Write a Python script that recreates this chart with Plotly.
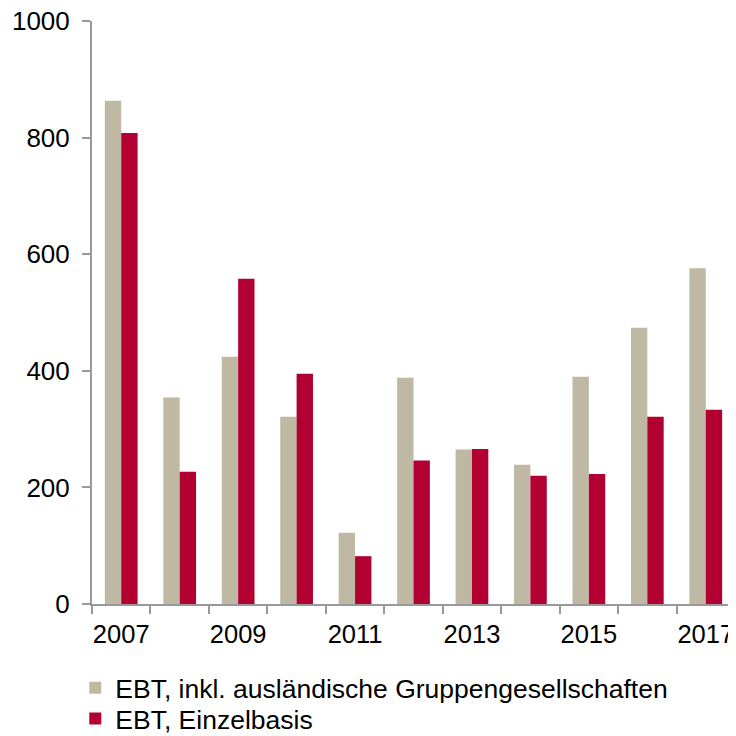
import plotly.graph_objects as go

years = ["2007", "2008", "2009", "2010", "2011", "2012", "2013", "2014", "2015", "2016", "2017"]
ebt_group = [863, 354, 424, 321, 122, 388, 265, 239, 390, 474, 576]
ebt_single = [808, 227, 558, 395, 82, 246, 266, 220, 223, 321, 333]
tick_labels = ["2007", "", "2009", "", "2011", "", "2013", "", "2015", "", "2017"]
y_ticks = [0, 200, 400, 600, 800, 1000]

fig = go.Figure()
fig.add_trace(go.Bar(x=years, y=ebt_group, name="EBT, inkl. ausländische Gruppengesellschaften",
                     marker=dict(color="#BFB8A2", line=dict(width=0)), legend="legend"))
fig.add_trace(go.Bar(x=years, y=ebt_single, name="EBT, Einzelbasis",
                     marker=dict(color="#B20032", line=dict(width=0)), legend="legend2"))

legend_style = dict(orientation="v", xanchor="left", yanchor="middle",
                    font=dict(size=26.5), itemsizing="constant", bgcolor="rgba(0,0,0,0)")

# page body has an 8px default margin, so the figure is drawn 8px smaller and shifted
fig.update_layout(
    width=728, height=728,
    margin=dict(l=84, r=1, t=13, b=132, autoexpand=False),
    paper_bgcolor="white", plot_bgcolor="white",
    barmode="group", bargap=0.44, bargroupgap=0,
    font=dict(family="Liberation Sans, Arial, sans-serif", size=26, color="black"),
    showlegend=True,
    legend=dict(x=-0.026, y=-0.144, **legend_style),
    legend2=dict(x=-0.026, y=-0.197, **legend_style),
)
fig.update_xaxes(type="category", tickmode="array", tickvals=years, ticktext=tick_labels,
                 tickson="boundaries", ticks="outside", ticklen=8, tickcolor="#999999",
                 tickwidth=2, showline=True, linecolor="#999999", linewidth=2, showgrid=False,
                 tickfont=dict(size=25.5), zeroline=False, ticklabelstandoff=6,
                 tickangle=0, automargin=False, ticklabeloverflow="allow")
fig.update_yaxes(range=[0, 1000], tickvals=y_ticks, ticks="outside", ticklen=8,
                 tickcolor="#999999", tickwidth=2, showline=True, linecolor="#999999", linewidth=2,
                 showgrid=False, zeroline=False, tickfont=dict(size=26), ticklabelstandoff=7,
                 automargin=False, ticklabeloverflow="allow")

fig.write_html("out.html")
